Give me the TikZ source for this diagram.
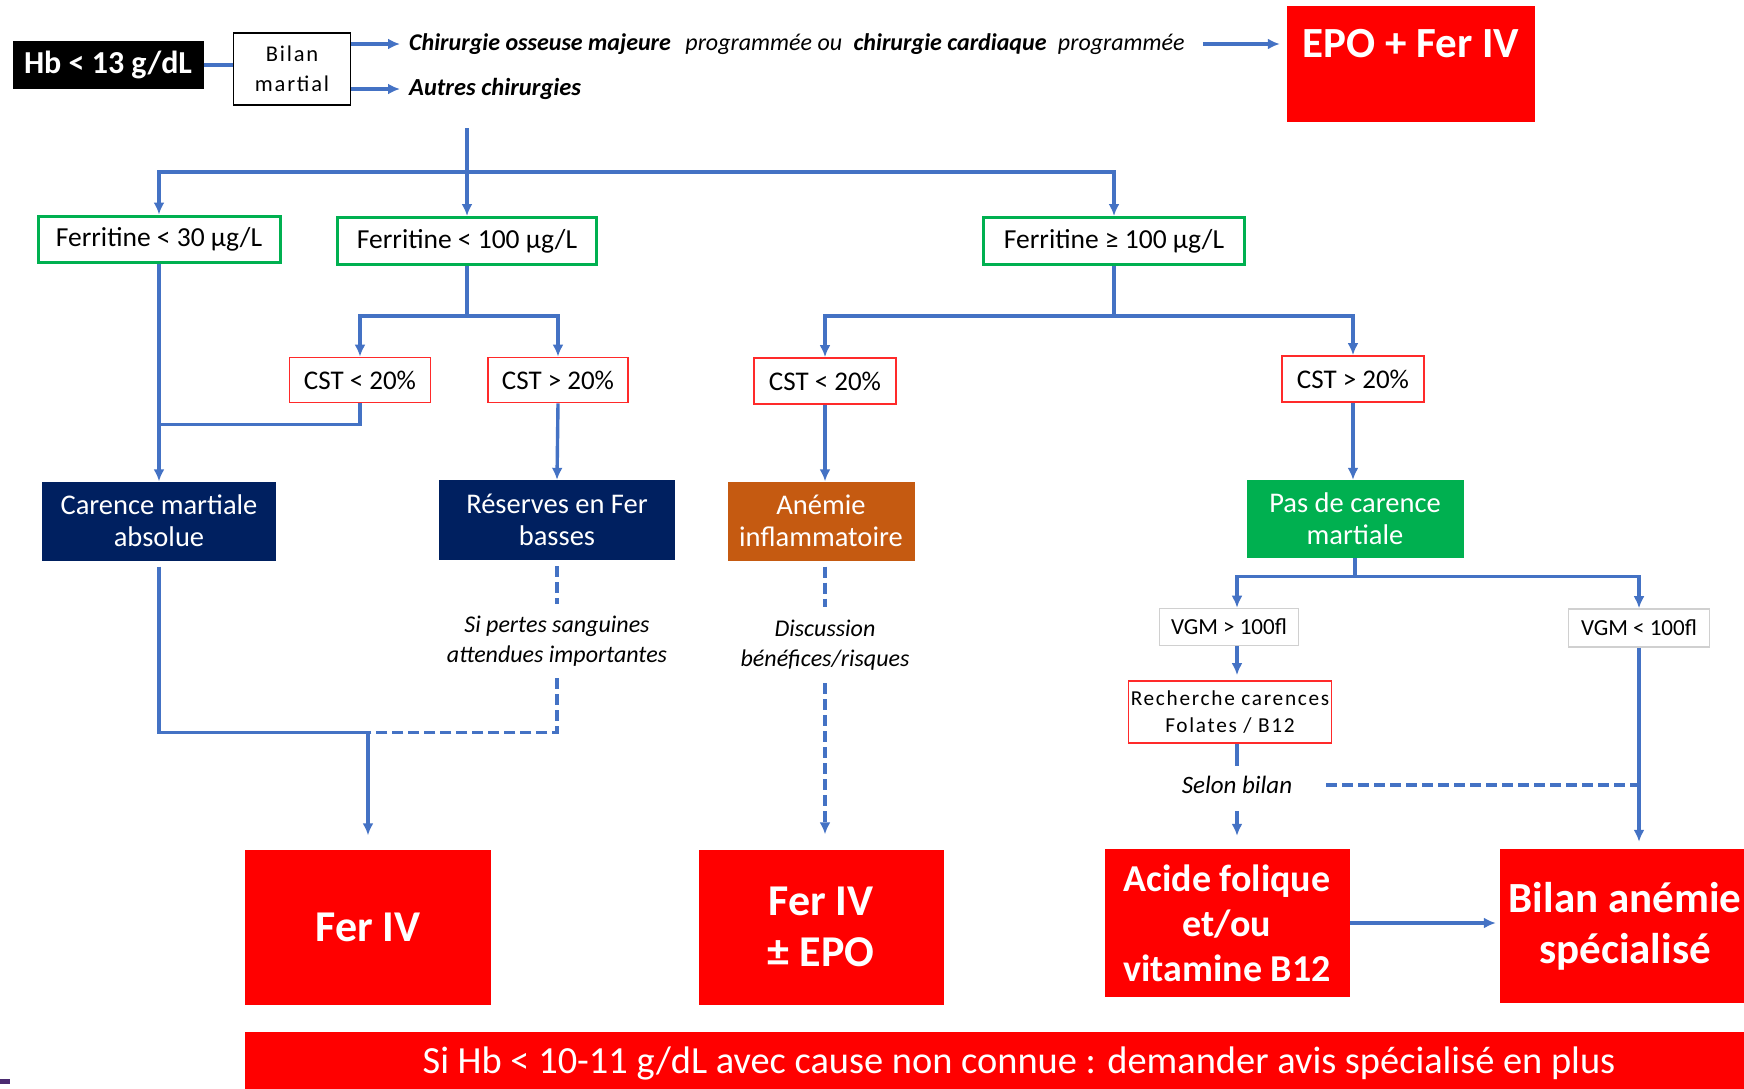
\documentclass[tikz,border=0pt]{standalone}
\usepackage{fontspec}
\setmainfont{Carlito}
\newfontfamily\spacedfont[LetterSpace=8]{Carlito}
\usetikzlibrary{arrows.meta,calc}

\definecolor{flowblue}{HTML}{4472C4}
\definecolor{okgreen}{HTML}{00B050}
\definecolor{alertred}{HTML}{FF0000}
\definecolor{framered}{HTML}{FF2A2A}
\definecolor{navy}{HTML}{002060}
\definecolor{rust}{HTML}{C55A11}
\definecolor{softgray}{HTML}{D0D0D0}
\definecolor{slidepurple}{HTML}{4B2B70}

\newcommand{\setfs}[2]{\fontsize{#1}{#2}\selectfont}

\begin{document}
\begin{tikzpicture}[x=1pt, y=-1pt,
  conn/.style={draw=flowblue, line width=3.4pt},
  arr/.style={conn, -{Latex[length=12pt,width=11pt]}},
  dconn/.style={conn, dash pattern=on 11pt off 5pt},
  darr/.style={dconn, -{Latex[length=12pt,width=11pt]}},
  cell/.style={rectangle, inner sep=0pt, align=center},
  ferbox/.style={cell, draw=okgreen, line width=3pt, fill=white, font=\setfs{27.5}{32}},
  cstbox/.style={cell, draw=framered, line width=1.8pt, fill=white, font=\setfs{27}{32}},
  vgmbox/.style={cell, draw=softgray, line width=1.6pt, fill=white, font=\setfs{23}{27}},
  darkbox/.style={cell, text=white, font=\setfs{28.5}{32}},
  note/.style={cell, inner ysep=12pt, font=\setfs{24}{30}\itshape},
  actbox/.style={cell, fill=alertred, text=white, font=\setfs{44}{51}\bfseries}
]
\useasboundingbox (0,0) rectangle (1744,1088);
\clip (0,0) rectangle (1744,1088);

% ---- entry: haemoglobin threshold and iron work-up
\node[cell, fill=black, text=white, minimum width=191pt, minimum height=48pt,
      font=\setfs{32}{36}\bfseries] (hb) at (108,65) {Hb < 13 g/dL};
\node[cell, draw=black, line width=1.5pt, fill=white, minimum width=117pt,
      minimum height=72pt, font=\spacedfont\setfs{22.5}{30}] (bilan) at (292,69) {Bilan\\martial};
\node[anchor=west, inner sep=0pt, font=\setfs{24}{28}\itshape] (chir) at (409,44)
  {\textbf{Chirurgie osseuse majeure}\hspace{9pt} programmée ou\hspace{6pt} \textbf{chirurgie cardiaque}\hspace{6pt} programmée};
\node[anchor=west, inner sep=0pt, font=\setfs{24.5}{28}\itshape\bfseries] (autres) at (409,89) {Autres chirurgies};
\node[cell, anchor=north, fill=alertred, text=white, minimum width=248pt,
      text height=51pt, text depth=65pt, font=\setfs{43}{48}\bfseries] (epo) at (1411,6) {EPO + Fer IV};

\draw[conn] (hb.east) -- (bilan.west |- hb.east);
\draw[arr] (bilan.east |- chir.west) -- ([xshift=-9pt]chir.west);
\draw[arr] (bilan.east |- autres.west) -- ([xshift=-9pt]autres.west);
\draw[arr] ([xshift=18pt]chir.east) -- ([xshift=-7pt]epo.west |- chir.east);

% ---- ferritin levels
\node[ferbox, minimum width=242pt, minimum height=46pt] (f30) at (159,239) {Ferritine < 30 µg/L};
\node[ferbox, minimum width=259pt, minimum height=47pt] (f100) at (467,241) {Ferritine < 100 µg/L};
\node[ferbox, minimum width=261pt, minimum height=47pt] (f100p) at (1114,241) {Ferritine ≥ 100 µg/L};

\coordinate (split) at (467,128);
\draw[conn] (split) -- ++(0,44) coordinate (hub);
\draw[arr] (hub) -| (f30.north);
\draw[arr] (hub) -- (f100.north);
\draw[arr] (hub) -| (f100p.north);

% ---- transferrin saturation
\node[cstbox, minimum width=141pt, minimum height=45pt] (c1) at (360,380) {CST < 20\%};
\node[cstbox, minimum width=140pt, minimum height=45pt] (c2) at (558,380) {CST > 20\%};
\node[cstbox, minimum width=142pt, minimum height=46pt] (c3) at (825,381) {CST < 20\%};
\node[cstbox, minimum width=142pt, minimum height=46pt] (c4) at (1353,379) {CST > 20\%};

\draw[conn] (f100.south) -- ++(0,50) coordinate (hubA);
\draw[arr] (hubA) -| (c1.north);
\draw[arr] (hubA) -| (c2.north);
\draw[conn] (f100p.south) -- ++(0,50) coordinate (hubB);
\draw[arr] (hubB) -| (c3.north);
\draw[arr] (hubB) -| (c4.north);

% ---- diagnoses
\node[darkbox, fill=navy, minimum width=234pt, minimum height=79pt] (carence) at (159,521) {Carence martiale\\absolue};
\node[darkbox, fill=navy, minimum width=236pt, minimum height=80pt] (reserves) at (557,520) {Réserves en Fer\\basses};
\node[darkbox, fill=rust, minimum width=187pt, minimum height=79pt] (anemie) at (821,521) {Anémie\\inflammatoire};
\node[darkbox, fill=okgreen, minimum width=217pt, minimum height=78pt] (pasdecar) at (1355,519) {Pas de carence\\martiale};

\draw[arr] (f30.south) -- (carence.north);
\path (c1.south) ++(0,21) coordinate (c1low);
\draw[conn] (c1.south) -- (c1low) -- (c1low -| f30.south);
\draw[arr] (c2.south) -- (reserves.north);
\draw[arr] (c3.south) -- (c3.south |- anemie.north);
\draw[arr] (c4.south) -- (c4.south |- pasdecar.north);

% ---- treatments
\node[actbox, minimum width=246pt, minimum height=155pt] (feriv) at (368,927) {Fer IV};
\node[actbox, minimum width=245pt, minimum height=155pt] (ferepo) at (821,927) {Fer IV\\± EPO};
\node[actbox, minimum width=245pt, minimum height=148pt, font=\setfs{38}{45}\bfseries] (acide) at (1227,923) {Acide folique\\et/ou\\vitamine B12};
\node[actbox, minimum width=264pt, minimum height=154pt, font=\setfs{43}{51}\bfseries] (bil2) at (1632,926) {\hspace*{-14pt}Bilan anémie\\\hspace*{-14pt}spécialisé};

% iron deficiency branch
\node[note] (pertes) at (557,641) {Si pertes sanguines\\attendues importantes};
\coordinate (joinL) at ($(carence.south)+(0,172)$);
\draw[conn, shorten <=6pt] (carence.south) -- (joinL) -- (joinL -| feriv.north);
\draw[arr, shorten >=14pt] (joinL -| feriv.north) -- (feriv.north);
\draw[dconn, shorten <=6pt] (reserves.south) -- (pertes.north);
\draw[dconn] (pertes.south) |- (joinL -| feriv.north);

% inflammatory anaemia branch
\node[note, inner ysep=13pt] (discussion) at (825,645) {Discussion\\bénéfices/risques};
\draw[dconn, shorten <=6pt] (discussion.north |- anemie.south) -- (discussion.north);
\draw[darr, shorten >=15pt] (discussion.south) -- (discussion.south |- ferepo.north);

% no iron deficiency branch
\node[vgmbox, minimum width=139pt, minimum height=37pt] (vgm1) at (1229,627) {VGM > 100fl};
\node[vgmbox, minimum width=141pt, minimum height=38pt] (vgm2) at (1639,628) {VGM < 100fl};
\node[cell, draw=framered, line width=1.8pt, minimum width=203pt, minimum height=62pt,
      font=\spacedfont\setfs{21.3}{27}] (rech) at (1230,712) {Recherche carences\\Folates / B12};
\node[cell, inner ysep=10pt, font=\setfs{25}{28}\itshape] (selon) at (1237,785) {Selon bilan};

\draw[conn] (pasdecar.south) -- ++(0,18) coordinate (hubC);
\draw[arr] (hubC) -| ([xshift=8pt]vgm1.north);
\draw[arr] (hubC) -| (vgm2.north);
\draw[arr, shorten >=5pt] ([xshift=8pt]vgm1.south) -- ([xshift=8pt]vgm1.south |- rech.north);
\draw[conn] (selon.north |- rech.south) -- (selon.north);
\draw[arr, shorten <=7pt, shorten >=13pt] (selon.south) -- (selon.south |- acide.north);
\draw[dconn] ($(selon.east)+(34,0)$) -- (selon.east -| vgm2.south);
\draw[arr, shorten >=7pt] (vgm2.south) -- (vgm2.south |- bil2.north);
\draw[arr, line width=4.5pt] (acide.east) -- ([xshift=-4pt]bil2.west |- acide.east);

% ---- closing remark
\node[cell, fill=alertred, text=white, minimum width=1548pt, minimum height=62pt,
      font=\setfs{38.4}{42}] (banner) at (1019,1063)
  {Si Hb < 10-11 g/dL avec cause non connue : demander avis spécialisé en plus};

\fill[slidepurple] (0,1079) rectangle (10,1084);
\end{tikzpicture}
\end{document}
